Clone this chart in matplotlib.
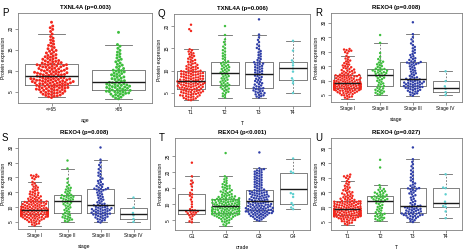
import numpy as np
import pandas as pd
import matplotlib
matplotlib.use("Agg")
import matplotlib.pyplot as plt
import seaborn as sns
import warnings

warnings.filterwarnings("ignore")
plt.rcParams['font.family'] = ['Liberation Sans', 'DejaVu Sans']

RED = "#F2261C"
GREEN = "#3DBE3D"
BLUE = "#2F3EA8"
CYAN = "#5ECFD0"
GREY = "#6a6a6a"

# ---------------- TXNL4A by age ----------------
age_cats = ["<=65", ">65"]
txn_age_le65 = [3.6, 3.8, 3.9, 4.0, 4.1, 4.2, 4.3, 4.4, 4.5, 4.6, 4.6, 4.7, 4.8, 4.9, 5.0, 5.0, 5.1, 5.2, 5.3, 5.3,
                5.4, 5.5, 5.5, 5.6, 5.7, 5.7, 5.8, 5.9, 5.9, 6.0, 6.0, 6.1, 6.2, 6.2, 6.3, 6.3, 6.4, 6.5, 6.5, 6.6,
                6.7, 6.7, 6.8, 6.8, 6.9, 6.9, 7.0, 7.0, 7.1, 7.1, 7.2, 7.2, 7.3, 7.3, 7.4, 7.4, 7.5, 7.5, 7.6, 7.6,
                7.7, 7.7, 7.8, 7.8, 7.9, 7.9, 8.0, 8.0, 8.1, 8.1, 8.2, 8.2, 8.3, 8.3, 8.4, 8.5, 8.5, 8.6, 8.7, 8.8,
                8.9, 8.9, 9.0, 9.0, 9.1, 9.2, 9.2, 9.3, 9.4, 9.4, 9.5, 9.6, 9.6, 9.7, 9.8, 9.9, 9.9, 10.0, 10.1, 10.1,
                10.2, 10.3, 10.4, 10.5, 10.5, 10.6, 10.7, 10.8, 10.9, 10.9, 11.0, 11.1, 11.2, 11.2, 11.3, 11.4, 11.4,
                11.5, 11.5, 11.6, 11.7, 11.8, 11.9, 12.0, 12.1, 12.2, 12.3, 12.4, 12.5, 12.7, 12.8, 12.9, 13.0, 13.2,
                13.3, 13.5, 13.6, 13.8, 14.0, 14.2, 14.4, 14.6, 14.8, 15.0, 15.2, 15.5, 15.8, 16.0, 16.3, 16.6, 17.0,
                17.3, 17.7, 18.1, 18.7, 19.3, 19.8, 20.2, 20.6, 21.5]
txn_age_gt65 = [3.3, 3.5, 3.7, 3.9, 4.0, 4.2, 4.3, 4.4, 4.5, 4.6, 4.7, 4.8, 4.9, 5.0, 5.0, 5.1, 5.2, 5.3, 5.3, 5.4,
                5.5, 5.6, 5.7, 5.8, 5.9, 6.0, 6.0, 6.1, 6.2, 6.3, 6.4, 6.5, 6.5, 6.6, 6.7, 6.8, 6.9, 7.0, 7.1, 7.2,
                7.3, 7.5, 7.6, 7.8, 7.9, 8.1, 8.2, 8.4, 8.5, 8.7, 8.8, 9.0, 9.1, 9.3, 9.4, 9.6, 9.7, 9.9, 10.0, 10.1,
                10.3, 10.5, 10.8, 11.0, 11.3, 11.5, 11.8, 12.1, 12.4, 12.7, 13.0, 13.3, 13.7, 14.0, 14.4, 14.8, 15.3,
                15.8, 16.2, 19.1]
# box stats: (lower whisker, q1, median, q3, upper whisker)
txn_age_stats = [(3.65, 6.6, 8.8, 11.6, 18.7), (3.3, 5.4, 7.2, 10.1, 16.2)]

# ---------------- TXNL4A by T ----------------
t_cats = ["T1", "T2", "T3", "T4"]
txn_t1 = [3.4, 3.5, 3.6, 3.7, 3.8, 3.9, 4.0, 4.1, 4.2, 4.2, 4.3, 4.4, 4.5, 4.5, 4.6, 4.7, 4.8, 4.8, 4.9, 5.0,
          5.0, 5.1, 5.2, 5.2, 5.3, 5.3, 5.4, 5.5, 5.5, 5.6, 5.6, 5.7, 5.8, 5.8, 5.9,
          6.0, 6.0, 6.1, 6.1, 6.2, 6.3, 6.3, 6.4, 6.4, 6.5, 6.5, 6.6, 6.6, 6.7, 6.8, 6.8, 6.9, 6.9, 7.0, 7.0,
          7.1, 7.1, 7.2, 7.2, 7.3, 7.3, 7.4, 7.4, 7.5, 7.5, 7.6, 7.6, 7.7, 7.7, 7.8,
          7.9, 7.9, 8.0, 8.0, 8.1, 8.2, 8.2, 8.3, 8.3, 8.4, 8.5, 8.5, 8.6, 8.7, 8.7, 8.8, 8.8, 8.9, 9.0, 9.0,
          9.1, 9.2, 9.2, 9.3, 9.3, 9.4, 9.5, 9.5, 9.6, 9.6, 9.7, 9.8, 9.8, 9.9, 9.9,
          10.0, 10.1, 10.2, 10.3, 10.4, 10.5, 10.6, 10.7, 10.8, 10.9, 11.0, 11.2, 11.3, 11.4, 11.6, 11.7, 11.9,
          12.0, 12.2, 12.4, 12.5, 12.7, 12.9, 13.1, 13.3, 13.5, 13.7, 13.9, 14.1, 14.3, 14.6, 14.8, 18.9, 19.3, 20.3]
txn_t2 = [4.0, 4.3, 4.6, 4.9, 5.1, 5.3, 5.5, 5.7, 5.9, 6.0, 6.2, 6.3, 6.5, 6.6, 6.8, 6.9,
          7.0, 7.2, 7.3, 7.5, 7.7, 7.8, 8.0, 8.2, 8.3, 8.5, 8.7, 8.8, 9.0, 9.2, 9.3, 9.5,
          9.6, 9.8, 9.9, 10.1, 10.2, 10.4, 10.5, 10.7, 10.8, 11.0, 11.1, 11.3, 11.4, 11.6, 11.8, 11.9,
          12.1, 12.4, 12.7, 13.0, 13.3, 13.6, 13.9, 14.3, 14.6, 15.0, 15.4, 15.9, 16.4, 17.0, 18.0, 20.0]
txn_t3 = [4.0, 4.2, 4.3, 4.5, 4.6, 4.7, 4.9, 5.0, 5.1, 5.3, 5.4, 5.5, 5.6, 5.8, 5.9, 6.0, 6.1, 6.2,
          6.4, 6.5, 6.7, 6.9, 7.0, 7.2, 7.4, 7.5, 7.7, 7.9, 8.0, 8.2, 8.4, 8.6, 8.8, 8.9, 9.1, 9.3,
          9.4, 9.6, 9.7, 9.9, 10.0, 10.2, 10.3, 10.5, 10.6, 10.8, 10.9, 11.1, 11.2, 11.4, 11.5, 11.6, 11.8, 11.9,
          12.1, 12.4, 12.6, 12.9, 13.2, 13.5, 13.8, 14.1, 14.4, 14.8, 15.1, 15.5, 15.9, 16.4, 16.9, 17.5, 18.1, 21.5]
txn_t4 = [5.0, 7.2, 7.8, 8.3, 9.8, 10.5, 11.2, 11.8, 12.3, 14.5, 16.7]
txn_t_stats = [(3.4, 5.9, 7.8, 9.9, 14.8), (4.0, 6.9, 9.5, 11.9, 18.0),
               (4.0, 6.2, 9.3, 11.9, 18.1), (5.0, 8.0, 10.5, 12.0, 16.7)]

# ---------------- REXO4 by stage ----------------
stage_cats = ["Stage I", "Stage II", "Stage III", "Stage IV"]
rex_s1 = [3.8, 4.1, 4.3, 4.5, 4.7, 4.9, 5.0, 5.2, 5.3, 5.5, 5.6, 5.7, 5.8, 5.9, 6.0, 6.1, 6.2, 6.3, 6.4, 6.5,
          6.5, 6.6, 6.7, 6.7, 6.8, 6.8, 6.9, 7.0, 7.0, 7.1, 7.1, 7.2, 7.2, 7.3, 7.3, 7.4, 7.5,
          7.5, 7.5, 7.6, 7.6, 7.6, 7.7, 7.7, 7.7, 7.8, 7.8, 7.8, 7.9, 7.9, 8.0, 8.0, 8.0, 8.1, 8.1, 8.2, 8.2,
          8.3, 8.3, 8.4, 8.4, 8.5, 8.5, 8.5, 8.6, 8.6, 8.7, 8.7, 8.8, 8.8, 8.8, 8.9, 8.9, 9.0, 9.0,
          9.1, 9.1, 9.2, 9.3, 9.3, 9.4, 9.5, 9.5, 9.6, 9.7, 9.7, 9.8, 9.9, 10.0, 10.0, 10.1, 10.2, 10.3, 10.3,
          10.4, 10.5, 10.6, 10.7, 10.8, 10.8, 10.9, 11.0, 11.1, 11.2, 11.3, 11.4, 11.4, 11.5, 11.6, 11.7, 11.8,
          11.8, 11.9,
          12.0, 12.1, 12.3, 12.4, 12.5, 12.7, 12.8, 13.0, 13.1, 13.3, 13.5, 13.6, 13.8, 14.0, 14.2, 14.4, 14.6,
          14.8, 15.0, 15.2, 15.5, 15.7, 16.0, 16.3, 16.6, 16.9, 17.2, 17.6, 18.0, 18.5, 19.4, 19.8, 20.1, 20.3,
          20.5, 20.7, 20.9]
rex_s2 = [5.1, 5.3, 5.6, 5.8, 6.0, 6.2, 6.4, 6.6, 6.8, 7.0, 7.3, 7.5, 7.8, 8.1,
          8.4, 8.7, 9.0, 9.3, 9.6, 9.9, 10.2, 10.5, 10.8, 11.0, 11.3, 11.5, 11.7, 11.9,
          12.1, 12.3, 12.5, 12.6, 12.8, 12.9, 13.1, 13.2, 13.4, 13.5, 13.7, 13.8, 14.0, 14.1,
          14.4, 14.7, 15.0, 15.3, 15.6, 15.9, 16.2, 16.5, 16.9, 17.4, 18.2, 19.5, 23.0, 25.7]
rex_s3 = [4.8, 5.1, 5.4, 5.6, 5.8, 6.0, 6.2, 6.4, 6.5, 6.7, 6.8, 7.0, 7.1, 7.3, 7.4, 7.5, 7.6, 7.7, 7.8, 7.9,
          8.0, 8.1,
          8.2, 8.3, 8.5, 8.6, 8.7, 8.8, 8.9, 9.0, 9.1, 9.2, 9.3, 9.4, 9.5, 9.6, 9.8, 9.9, 10.0, 10.1, 10.3,
          10.4, 10.6, 10.7,
          10.9, 11.1, 11.3, 11.6, 11.9, 12.2, 12.5, 12.8, 13.1, 13.4, 13.7, 14.0, 14.3, 14.6, 14.9, 15.2, 15.5,
          15.7, 15.9, 16.0, 16.1, 16.2,
          16.4, 16.6, 16.8, 17.1, 17.4, 17.7, 18.0, 18.4, 18.8, 19.2, 19.6, 20.1, 20.6, 21.1, 21.6, 22.2, 22.8,
          23.5, 24.2, 25.0, 26.0, 30.1]
rex_s4 = [5.0, 6.0, 7.2, 8.0, 9.8, 13.2]
rex_stage_stats = [(3.75, 7.5, 9.0, 11.9, 18.5), (5.1, 8.1, 11.9, 14.1, 23.0),
                   (4.8, 8.1, 10.7, 16.25, 26.0), (5.0, 6.0, 7.6, 9.8, 13.2)]

# ---------------- REXO4 by grade ----------------
grade_cats = ["G1", "G2", "G3", "G4"]
rex_g1 = [4.4, 4.7, 5.3, 5.9, 6.3, 6.6, 6.8, 7.0, 7.2, 7.4, 7.5, 7.7, 7.8, 7.9, 8.1, 8.2,
          8.5, 9.2, 10.0, 10.8, 11.5, 12.2, 12.7, 13.1, 13.6, 14.5, 15.6, 16.3, 16.8, 17.4, 18.75, 23.0]
rex_g2 = [3.3, 3.7, 4.0, 4.3, 4.5, 4.7, 4.9, 5.1, 5.3, 5.4, 5.5, 5.7, 5.8, 5.9, 6.0, 6.1, 6.2, 6.3, 6.4, 6.5,
          6.5, 6.6, 6.7, 6.7, 6.8, 6.8, 6.9, 6.9, 7.0, 7.0, 7.1, 7.1, 7.2, 7.3, 7.4,
          7.5, 7.5, 7.6, 7.6, 7.7, 7.7, 7.8, 7.8, 7.9, 7.9, 8.0, 8.1, 8.1, 8.2, 8.2, 8.3, 8.4, 8.4, 8.5, 8.5,
          8.6, 8.7, 8.7, 8.8, 8.8, 8.9, 9.0, 9.0, 9.1, 9.1, 9.2, 9.3, 9.3, 9.4, 9.5,
          9.6, 9.6, 9.7, 9.8, 9.8, 9.9, 10.0, 10.0, 10.1, 10.2, 10.2, 10.3, 10.4, 10.4, 10.5, 10.6, 10.6, 10.7,
          10.8, 10.8, 10.9, 11.0, 11.0, 11.1, 11.2, 11.2, 11.3, 11.4, 11.4, 11.5, 11.6, 11.6, 11.7, 11.7, 11.8,
          11.9, 12.0, 12.1, 12.2, 12.3, 12.4, 12.5, 12.6, 12.7, 12.9, 13.0, 13.2, 13.3, 13.5, 13.7, 13.9, 14.0,
          14.2, 14.4, 14.6, 14.8, 15.0, 15.2, 15.4, 15.6, 15.8, 16.0, 16.3, 16.6, 17.0, 17.4, 17.8, 18.2, 18.75,
          26.0]
rex_g3 = [4.9, 5.1, 5.3, 5.5, 5.7, 5.8, 6.0, 6.1, 6.2, 6.3, 6.4, 6.5, 6.6, 6.7, 6.8, 6.9, 7.0, 7.0, 7.1, 7.2,
          7.3, 7.3, 7.4, 7.5, 7.5, 7.6, 7.7, 7.7, 7.8, 7.8, 7.9, 8.0, 8.0, 8.1, 8.2,
          8.3, 8.3, 8.4, 8.5, 8.5, 8.6, 8.7, 8.7, 8.8, 8.9, 8.9, 9.0, 9.1, 9.2, 9.2, 9.3, 9.4, 9.5, 9.5, 9.6,
          9.7, 9.8, 9.9, 9.9, 10.0, 10.1, 10.2, 10.3, 10.4, 10.4, 10.5, 10.6, 10.7, 10.8, 10.9,
          11.0, 11.1, 11.2, 11.3, 11.4, 11.5, 11.6, 11.7, 11.8, 11.9, 12.0, 12.1, 12.2, 12.3, 12.4, 12.5, 12.6,
          12.7, 12.8, 12.9, 13.0, 13.1, 13.2, 13.3, 13.4, 13.5, 13.6, 13.7, 13.8, 13.9, 14.0, 14.1, 14.2, 14.3,
          14.4, 14.6, 14.8, 15.0, 15.2, 15.4, 15.6, 15.8, 16.0, 16.2, 16.4, 16.6, 16.8, 17.0, 17.2, 17.4, 17.6,
          17.8, 18.0, 18.2, 18.4, 18.6, 18.8, 19.0, 19.2, 19.4, 19.6, 19.8, 20.0, 20.2, 20.4, 20.6, 20.8, 21.0,
          21.25, 26.2]
rex_g4 = [8.5, 9.0, 9.8, 10.4, 12.3, 13.2, 13.5, 19.8, 20.2, 24.3]
rex_grade_stats = [(4.4, 7.0, 8.2, 13.1, 18.75), (3.3, 7.4, 9.5, 11.8, 18.75),
                   (4.9, 8.2, 10.9, 14.4, 21.25), (8.5, 10.1, 14.7, 19.9, 24.3)]

# ---------------- REXO4 by T ----------------
rex_t1 = [4.0, 4.3, 4.5, 4.7, 4.9, 5.1, 5.2, 5.4, 5.5, 5.6, 5.8, 5.9, 6.0, 6.1, 6.2, 6.3, 6.4, 6.5, 6.5, 6.6,
          6.7, 6.7, 6.8, 6.8, 6.9, 6.9, 7.0, 7.0, 7.1, 7.1, 7.2, 7.2, 7.3, 7.3, 7.3, 7.4, 7.4,
          7.5, 7.5, 7.6, 7.6, 7.7, 7.7, 7.8, 7.8, 7.9, 7.9, 8.0, 8.0, 8.1, 8.1, 8.2, 8.2, 8.3, 8.3, 8.4, 8.4,
          8.5, 8.5, 8.6, 8.6, 8.7, 8.7, 8.8, 8.8, 8.9, 8.9, 9.0, 9.0, 9.1, 9.1, 9.2, 9.2, 9.3, 9.3,
          9.4, 9.4, 9.5, 9.6, 9.6, 9.7, 9.8, 9.8, 9.9, 10.0, 10.0, 10.1, 10.2, 10.2, 10.3, 10.4, 10.5, 10.5,
          10.6, 10.7, 10.8, 10.8, 10.9, 11.0, 11.1, 11.1, 11.2, 11.3, 11.4, 11.4, 11.5, 11.6, 11.6, 11.7, 11.8,
          11.8, 11.9, 11.9,
          12.0, 12.1, 12.3, 12.4, 12.5, 12.7, 12.8, 13.0, 13.1, 13.3, 13.5, 13.6, 13.8, 14.0, 14.2, 14.4, 14.6,
          14.8, 15.0, 15.2, 15.5, 15.7, 16.0, 16.3, 16.6, 16.9, 17.2, 17.6, 18.0, 18.4, 18.8, 19.5, 19.9, 20.2,
          20.4, 20.6, 21.0]
rex_t2 = [5.3, 5.5, 5.7, 5.9, 6.1, 6.3, 6.5, 6.7, 6.9, 7.1, 7.3, 7.5, 7.7, 7.9,
          8.2, 8.5, 8.8, 9.1, 9.4, 9.7, 10.0, 10.3, 10.7, 11.0, 11.3, 11.6, 11.8, 12.0,
          12.2, 12.3, 12.4, 12.6, 12.7, 12.8, 13.0, 13.1, 13.2, 13.4, 13.5, 13.6, 13.8, 13.9,
          14.1, 14.3, 14.5, 14.7, 14.9, 15.1, 15.3, 15.5, 15.8, 16.1, 16.6, 17.4, 23.4, 26.0]
rex_t3 = [4.9, 5.2, 5.5, 5.8, 6.0, 6.2, 6.4, 6.6, 6.7, 6.9, 7.0, 7.1, 7.2, 7.3, 7.4, 7.5, 7.6, 7.7, 7.8, 7.9,
          8.0, 8.1, 8.3, 8.4, 8.5, 8.7, 8.8, 8.9, 9.0, 9.2, 9.3, 9.4, 9.6, 9.7, 9.8, 9.9, 10.1, 10.2, 10.3, 10.45,
          10.7, 11.0, 11.3, 11.7, 12.0, 12.4, 12.8, 13.2, 13.6, 14.0, 14.3, 14.6, 14.9, 15.2, 15.5, 15.8, 16.0,
          16.2, 16.3, 16.4,
          16.6, 16.9, 17.2, 17.6, 18.0, 18.5, 19.0, 19.5, 20.0, 20.6, 21.2, 21.8, 22.4, 23.1, 23.8, 24.5, 25.3,
          26.2, 30.2]
rex_t4 = [6.2, 8.5, 10.0, 10.3, 11.0, 11.8, 14.3, 16.4, 16.6, 21.1]
rex_t_stats = [(4.0, 7.4, 9.3, 11.9, 18.8), (5.25, 7.9, 12.0, 13.9, 17.4),
               (4.9, 7.9, 10.45, 16.4, 26.2), (6.2, 10.0, 11.4, 16.4, 21.1)]

W, H = 467, 249
fig = plt.figure(figsize=(W / 100, H / 100), dpi=100)

panels = [
    ("P", "TXNL4A (p=0.003)", "age", age_cats, [txn_age_le65, txn_age_gt65], txn_age_stats,
     [RED, GREEN], (2.3, 23.7), [5, 10, 15, 20], (18, 13, 152, 103), 2.1),
    ("Q", "TXNL4A (p=0.006)", "T", t_cats, [txn_t1, txn_t2, txn_t3, txn_t4], txn_t_stats,
     [RED, GREEN, BLUE, CYAN], (2.1, 22.7), [5, 10, 15, 20], (174, 14, 310, 106), 1.75),
    ("R", "REXO4 (p=0.008)", "stage", stage_cats, [rex_s1, rex_s2, rex_s3, rex_s4], rex_stage_stats,
     [RED, GREEN, BLUE, CYAN], (2.6, 33.3), [5, 10, 15, 20, 25, 30], (331, 13, 462, 102), 1.75),
    ("S", "REXO4 (p=0.008)", "stage", stage_cats, [rex_s1, rex_s2, rex_s3, rex_s4], rex_stage_stats,
     [RED, GREEN, BLUE, CYAN], (2.6, 33.3), [5, 10, 15, 20, 25, 30], (18, 138, 150, 229), 1.75),
    ("T", "REXO4 (p<0.001)", "grade", grade_cats, [rex_g1, rex_g2, rex_g3, rex_g4], rex_grade_stats,
     [RED, GREEN, BLUE, CYAN], (2.0, 30.7), [5, 10, 15, 20, 25], (175, 138, 310, 230), 1.75),
    ("U", "REXO4 (p=0.027)", "T", t_cats, [rex_t1, rex_t2, rex_t3, rex_t4], rex_t_stats,
     [RED, GREEN, BLUE, CYAN], (2.2, 33.4), [5, 10, 15, 20, 25, 30], (331, 138, 462, 230), 1.75),
]

for letter, title, xlab, cats, groups, stats, colors, ylim, yticks, box, dot in panels:
    x0, y0, x1, y1 = box
    ax = fig.add_axes([x0 / W, 1 - y1 / H, (x1 - x0) / W, (y1 - y0) / H])
    bstats = [dict(whislo=s[0], q1=s[1], med=s[2], q3=s[3], whishi=s[4], fliers=[]) for s in stats]
    ax.bxp(bstats, positions=range(len(cats)), widths=0.8, capwidths=0.4, showfliers=False,
           boxprops=dict(color=GREY, lw=0.6, zorder=1),
           whiskerprops=dict(color=GREY, lw=0.6, ls=(0, (2, 2)), zorder=1),
           capprops=dict(color=GREY, lw=0.6, zorder=1),
           medianprops=dict(color="#1a1a1a", lw=1.0, zorder=4))
    df = pd.DataFrame({"grp": np.repeat(cats, [len(g) for g in groups]),
                       "val": np.concatenate(groups)})
    sns.swarmplot(data=df, x="grp", y="val", hue="grp", order=cats, hue_order=cats,
                  palette=colors, size=dot, linewidth=0, legend=False, ax=ax, zorder=3)
    ax.set_xlim(-0.5, len(cats) - 0.5)
    ax.set_ylim(*ylim)
    ax.set_yticks(yticks)
    ax.set_xticks(range(len(cats)))
    ax.set_xticklabels(cats)
    plt.setp(ax.get_yticklabels(), rotation=90, va="center")
    ax.tick_params(length=2, width=0.5, pad=1.2, labelsize=3.4, color=GREY)
    for sp in ax.spines.values():
        sp.set_color("#808080")
        sp.set_linewidth(0.6)
    ax.set_xlabel(xlab, fontsize=3.6, labelpad=4)
    ax.set_ylabel("Protein expression", fontsize=3.6, labelpad=1.5)
    ax.set_title(title, fontsize=4.3, fontweight="bold", pad=3)
    fig.text((x0 - 16) / W, 1 - (y0 - 5) / H, letter, fontsize=7, va="top", ha="left")

fig.savefig("out.png", dpi=100)
